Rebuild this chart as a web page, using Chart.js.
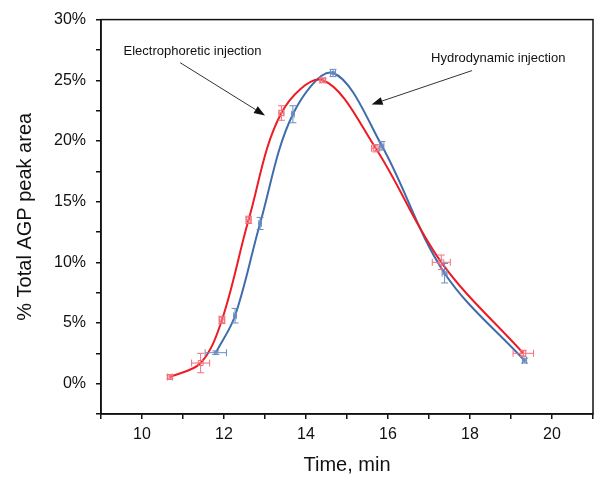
<!DOCTYPE html>
<html>
<head>
<meta charset="utf-8">
<script src="https://cdn.jsdelivr.net/npm/chart.js@4.4.1/dist/chart.umd.min.js"></script>
<style>
  html, body { margin: 0; padding: 0; background: #fff; }
</style>
</head>
<body>
<canvas id="chart" width="604" height="488"></canvas>
<script>
// Electrophoretic injection (red)
const electroTime = [10.68, 11.43, 11.95, 12.6, 13.4, 14.41, 15.7, 17.3, 19.3];
const electroArea = [0.55, 1.7, 5.25, 13.5, 22.3, 25.0, 19.4, 10.0, 2.5];
const electroTimeErr = [0.06, 0.22, 0.07, 0.06, 0.06, 0.07, 0.1, 0.22, 0.25];
const electroAreaErr = [0.15, 0.8, 0.3, 0.3, 0.6, 0.15, 0.3, 0.6, 0.25];

// Hydrodynamic injection (blue)
const hydroTime = [11.8, 12.27, 12.88, 13.68, 14.66, 15.85, 17.38, 19.33];
const hydroArea = [2.55, 5.6, 13.2, 22.2, 25.6, 19.6, 9.1, 1.9];
const hydroTimeErr = [0.26, 0.03, 0.03, 0.03, 0.06, 0.05, 0.06, 0.05];
const hydroAreaErr = [0.15, 0.6, 0.5, 0.7, 0.3, 0.35, 0.8, 0.2];

const xTicks = { min: 9, max: 21, step: 1 };
const yTicks = { min: -2.5, max: 30, step: 2.5 };

const notes = [
  { text: 'Electrophoretic injection', x: 9.55, y: 27.35, from: [10.93, 26.45], to: [13.0, 22.1] },
  { text: 'Hydrodynamic injection', x: 17.05, y: 26.8, from: [18.05, 25.8], to: [15.6, 23.0] }
];

const toPoints = (xs, ys) => xs.map((x, i) => ({ x: x, y: ys[i] }));

const errorBars = {
  id: 'errorBars',
  afterDatasetsDraw(chart) {
    const { ctx, scales: { x, y } } = chart;
    chart.data.datasets.forEach(ds => {
      ctx.save();
      ctx.strokeStyle = ds.errColor;
      ctx.lineWidth = 1;
      ds.data.forEach((p, i) => {
        const px = x.getPixelForValue(p.x), py = y.getPixelForValue(p.y);
        const x0 = x.getPixelForValue(p.x - ds.xErr[i]), x1 = x.getPixelForValue(p.x + ds.xErr[i]);
        const y0 = y.getPixelForValue(p.y - ds.yErr[i]), y1 = y.getPixelForValue(p.y + ds.yErr[i]);
        const c = 3.5;
        ctx.beginPath();
        ctx.moveTo(x0, py); ctx.lineTo(x1, py);
        ctx.moveTo(x0, py - c); ctx.lineTo(x0, py + c);
        ctx.moveTo(x1, py - c); ctx.lineTo(x1, py + c);
        ctx.moveTo(px, y0); ctx.lineTo(px, y1);
        ctx.moveTo(px - c, y0); ctx.lineTo(px + c, y0);
        ctx.moveTo(px - c, y1); ctx.lineTo(px + c, y1);
        ctx.stroke();
      });
      ctx.restore();
    });
  }
};

const frame = {
  id: 'frame',
  afterDraw(chart) {
    const { ctx, chartArea: a } = chart;
    ctx.save();
    ctx.strokeStyle = '#111';
    ctx.lineWidth = 1.5;
    ctx.strokeRect(a.left, a.top, a.right - a.left, a.bottom - a.top);
    ctx.restore();
  }
};

const arrows = {
  id: 'arrows',
  afterDraw(chart) {
    const { ctx, scales: { x, y } } = chart;
    ctx.save();
    ctx.font = '13px "Liberation Sans", Arial, sans-serif';
    ctx.fillStyle = '#111';
    ctx.textBaseline = 'middle';
    notes.forEach(n => {
      ctx.fillText(n.text, x.getPixelForValue(n.x), y.getPixelForValue(n.y));
      const sx = x.getPixelForValue(n.from[0]), sy = y.getPixelForValue(n.from[1]);
      const ex = x.getPixelForValue(n.to[0]), ey = y.getPixelForValue(n.to[1]);
      const ang = Math.atan2(ey - sy, ex - sx);
      const len = 11, half = 4;
      const bx = ex - len * Math.cos(ang), by = ey - len * Math.sin(ang);
      ctx.strokeStyle = '#333';
      ctx.lineWidth = 1;
      ctx.beginPath();
      ctx.moveTo(sx, sy); ctx.lineTo(bx, by);
      ctx.stroke();
      ctx.beginPath();
      ctx.moveTo(ex, ey);
      ctx.lineTo(bx + half * Math.sin(ang), by - half * Math.cos(ang));
      ctx.lineTo(bx - half * Math.sin(ang), by + half * Math.cos(ang));
      ctx.closePath();
      ctx.fill();
    });
    ctx.restore();
  }
};

const font = { family: '"Liberation Sans", Arial, sans-serif' };

new Chart(document.getElementById('chart'), {
  type: 'scatter',
  data: {
    datasets: [
      {
        label: 'Electrophoretic injection',
        data: toPoints(electroTime, electroArea),
        xErr: electroTimeErr, yErr: electroAreaErr, errColor: '#f0707c',
        showLine: true, borderColor: '#ec1c24', borderWidth: 2,
        tension: 0.35,
        pointStyle: 'rect', pointRadius: 3.5, pointBorderWidth: 1,
        pointBorderColor: '#f0707c', pointBackgroundColor: 'rgba(0,0,0,0)'
      },
      {
        label: 'Hydrodynamic injection',
        data: toPoints(hydroTime, hydroArea),
        xErr: hydroTimeErr, yErr: hydroAreaErr, errColor: '#6a8cc0',
        showLine: true, borderColor: '#3f6dac', borderWidth: 2,
        tension: 0.35,
        pointStyle: 'rect', pointRadius: 2, pointBorderWidth: 1,
        pointBorderColor: '#6a8cc0', pointBackgroundColor: 'rgba(0,0,0,0)'
      }
    ]
  },
  options: {
    responsive: false,
    animation: false,
    layout: { padding: { left: 0, top: 15, right: 11, bottom: 0 } },
    plugins: { legend: { display: false }, tooltip: { enabled: false } },
    scales: {
      x: {
        type: 'linear',
        min: xTicks.min, max: xTicks.max,
        afterFit: s => { s.height = 74; },
        border: { color: '#111', width: 1.5 },
        grid: { drawOnChartArea: false, color: '#111', tickLength: 5, lineWidth: 1.5 },
        ticks: {
          stepSize: xTicks.step, padding: 6, color: '#111', maxRotation: 0, autoSkip: false,
          font: { ...font, size: 16 },
          callback: v => (v % 2 === 0 ? String(v) : '')
        },
        title: { display: true, text: 'Time, min', color: '#111', padding: 11, font: { ...font, size: 20 } }
      },
      y: {
        min: yTicks.min, max: yTicks.max,
        afterFit: s => { s.width = 101; },
        border: { color: '#111', width: 1.5 },
        grid: { drawOnChartArea: false, color: '#111', tickLength: 5, lineWidth: 1.5 },
        ticks: {
          stepSize: yTicks.step, padding: 10, color: '#111', autoSkip: false,
          font: { ...font, size: 16 },
          callback: v => (v % 5 === 0 ? v + '%' : '')
        },
        title: { display: true, text: '% Total AGP peak area', color: '#111', padding: 13, font: { ...font, size: 20 } }
      }
    }
  },
  plugins: [errorBars, frame, arrows]
});
</script>
</body>
</html>
